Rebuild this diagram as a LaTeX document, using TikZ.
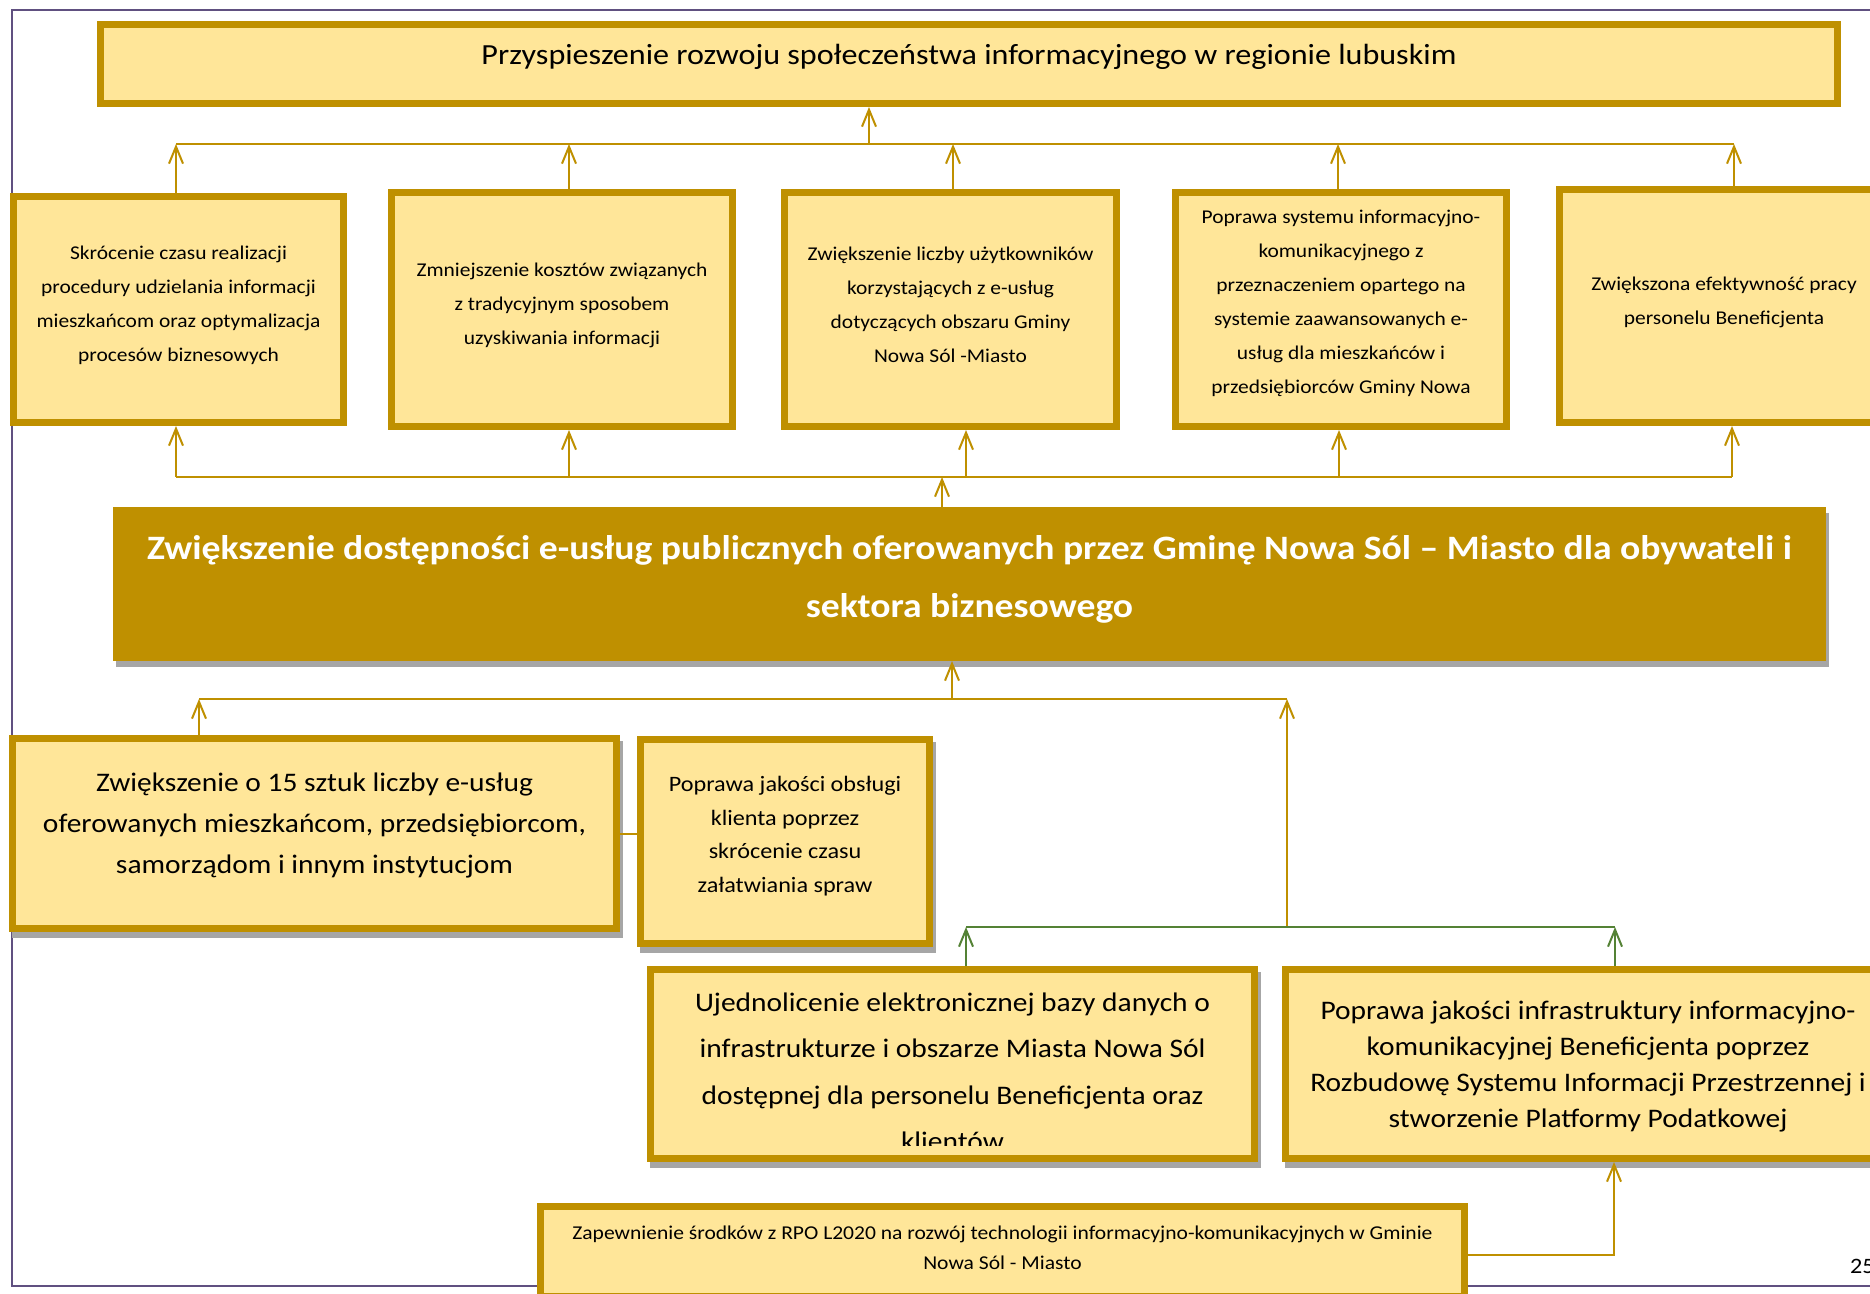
\documentclass[tikz,border=0pt]{standalone}
\usepackage{fontspec}
\setmainfont{Carlito}[FakeStretch=1.1]
\usetikzlibrary{arrows.meta,shadows}

\definecolor{gold}{RGB}{191,144,0}
\definecolor{paleyellow}{RGB}{255,230,153}
\definecolor{leafgreen}{RGB}{84,130,53}
\definecolor{framepurple}{RGB}{96,80,128}
\definecolor{shadowgray}{RGB}{166,166,166}

\begin{document}
\begin{tikzpicture}[x=1pt,y=-1pt,
    box/.style={rectangle,draw=gold,fill=paleyellow,line width=7pt,inner sep=0pt},
    shbox/.style={box,drop shadow={shadow xshift=3pt,shadow yshift=-6pt,opacity=1,fill=shadowgray,draw=shadowgray,line width=7pt}},
    rowbox/.style={box,minimum width=332pt,minimum height=234pt},
    txt/.style={align=center,inner sep=0pt},
    rowtext/.style={txt,font=\fontsize{19.5}{34}\selectfont},
    link/.style={draw=gold,line width=2pt},
    tipend/.style={link,-{Straight Barb[length=17pt,width=14pt]}},
    tipstart/.style={link,{Straight Barb[length=17pt,width=14pt]}-},
    greentip/.style={tipend,draw=leafgreen}]
    \useasboundingbox (0,0) rectangle (1870,1293);
    \fill[white] (0,0) rectangle (1870,1293);
    \draw[framepurple,line width=2pt] (1880,9.5) -- (12,9.5) -- (12,1286) -- (1880,1286);

    % goal at the top
    \node[box,minimum width=1737pt,minimum height=79pt] (goal) at (969,64) {};
    \node[txt,font=\fontsize{29.2}{35}\selectfont] (tgoal) at ([yshift=7pt]goal.center) {Przyspieszenie rozwoju społeczeństwa informacyjnego w regionie lubuskim};

    % row of effects
    \node[rowbox,minimum width=330pt,minimum height=226pt] (r1) at (178.5,309.5) {};
    \node[rowbox,minimum width=341pt] (r2) at (562,309.5) {};
    \node[rowbox] (r3) at (950.5,309.5) {};
    \node[rowbox,minimum width=331pt] (r4) at (1341,309.5) {};
    \node[rowbox,minimum width=329pt,minimum height=233pt] (r5) at (1724,306) {};
    \node[rowtext] (tr1) at ([yshift=4.5pt]r1.center) {Skrócenie czasu realizacji\\procedury udzielania informacji\\mieszkańcom oraz optymalizacja\\procesów biznesowych};
    \node[rowtext] (tr2) at ([yshift=4.5pt]r2.center) {Zmniejszenie kosztów związanych\\z tradycyjnym sposobem\\uzyskiwania informacji};
    \node[rowtext] (tr3) at ([yshift=4.5pt]r3.center) {Zwiększenie liczby użytkowników\\korzystających z e-usług\\dotyczących obszaru Gminy\\Nowa Sól -Miasto};
    \begin{scope}
      \clip ([xshift=7pt,yshift=-7pt]r4.north west) rectangle ([xshift=-7pt,yshift=19pt]r4.south east);
      \node[rowtext] (tr4) at ([yshift=-9.5pt]r4.center) {Poprawa systemu informacyjno-\\komunikacyjnego z\\przeznaczeniem opartego na\\systemie zaawansowanych e-\\usług dla mieszkańców i\\przedsiębiorców Gminy Nowa\\Sól -Miasto};
    \end{scope}
    \node[rowtext] (tr5) at ([yshift=4pt]r5.center) {Zwiększona efektywność pracy\\personelu Beneficjenta};

    % main objective
    \node[shbox,fill=gold,minimum width=1706pt,minimum height=147pt] (main) at (969.5,584) {};
    \node[txt,text=white,font=\bfseries\fontsize{34.2}{58}\selectfont] (tmain) at ([yshift=5pt]main.center) {Zwiększenie dostępności e-usług publicznych oferowanych przez Gminę Nowa Sól – Miasto dla obywateli i\\sektora biznesowego};

    % products and results
    \node[shbox,minimum width=604pt,minimum height=190pt] (lo1) at (314.5,833.5) {};
    \node[txt,font=\fontsize{26.8}{41}\selectfont] (tlo1) at ([yshift=8.5pt]lo1.center) {Zwiększenie o 15 sztuk liczby e-usług\\oferowanych mieszkańcom, przedsiębiorcom,\\samorządom i innym instytucjom};
    \node[shbox,minimum width=289pt,minimum height=204pt] (lo2) at (785,841.5) {};
    \node[txt,font=\fontsize{22}{33.5}\selectfont] (tlo2) at ([yshift=5.5pt]lo2.center) {Poprawa jakości obsługi\\klienta poprzez\\skrócenie czasu\\załatwiania spraw};
    \node[shbox,minimum width=604pt,minimum height=189pt] (lo3) at (952.5,1064) {};
    \begin{scope}
      \clip ([xshift=7pt,yshift=-7pt]lo3.north west) rectangle ([xshift=-7pt,yshift=17pt]lo3.south east);
      \node[txt,font=\fontsize{26.8}{46.5}\selectfont] (tlo3) at ([yshift=-7.75pt]lo3.center) {Ujednolicenie elektronicznej bazy danych o\\infrastrukturze i obszarze Miasta Nowa Sól\\dostępnej dla personelu Beneficjenta oraz\\klientów};
    \end{scope}
    \node[shbox,minimum width=605pt,minimum height=189pt] (lo4) at (1588,1064) {};
    \node[txt,font=\fontsize{26.8}{36}\selectfont] (tlo4) at ([yshift=-2pt]lo4.center) {Poprawa jakości infrastruktury informacyjno-\\komunikacyjnej Beneficjenta poprzez\\Rozbudowę Systemu Informacji Przestrzennej i\\stworzenie Platformy Podatkowej};
    \node[box,minimum width=924pt,minimum height=90pt] (zap) at (1002.5,1251.5) {};
    \node[txt,font=\fontsize{19.6}{30}\selectfont] (tzap) at ([yshift=3.5pt]zap.center) {Zapewnienie środków z RPO L2020 na rozwój technologii informacyjno-komunikacyjnych w Gminie\\Nowa Sól - Miasto};
    \node[txt,font=\fontsize{22}{26}\selectfont,anchor=west] (page) at (1850,1266) {25};

    % connectors: effects -> goal
    \coordinate (ubus) at (0,144);
    \foreach \n/\dx in {r1/-2.5,r2/7,r3/2.5,r4/-3,r5/10}
      \draw[tipend] ([xshift=\dx pt]\n.north) coordinate (u\n) -- (u\n |- ubus);
    \draw[link] (ur1 |- ubus) -- (ur5 |- ubus);
    \draw[tipstart] ([xshift=-100pt]goal.south) coordinate (ug) -- (ug |- ubus);

    % main objective -> effects
    \coordinate (mbus) at (0,477);
    \foreach \n/\dx in {r1/-2.5,r2/7,r3/15.5,r4/-2,r5/8}
      \draw[tipstart] ([xshift=\dx pt]\n.south) coordinate (d\n) -- (d\n |- mbus);
    \draw[link] (dr1 |- mbus) -- (dr5 |- mbus);
    \draw[tipend] ([xshift=-27.5pt]main.north) coordinate (um) -- (um |- mbus);

    % products -> main objective
    \coordinate (lbus) at (0,699);
    \coordinate (gbus) at (1287,927);
    \draw[tipend] ([xshift=-115.5pt]lo1.north) coordinate (ul1) -- (ul1 |- lbus);
    \draw[tipstart] ([xshift=-17.5pt]main.south) coordinate (dm) -- (dm |- lbus);
    \draw[link] (ul1 |- lbus) -- (gbus |- lbus);
    \draw[tipend] (gbus) -- (gbus |- lbus);
    \draw[link] (lo1.east) -- (lo1.east -| lo2.west);
    \draw[greentip] ([xshift=13.5pt]lo3.north) coordinate (ul3) -- (ul3 |- gbus);
    \draw[greentip] ([xshift=27pt]lo4.north) coordinate (ul4) -- (ul4 |- gbus);
    \draw[leafgreen,line width=2pt] (ul3 |- gbus) -- (ul4 |- gbus);
    \draw[tipend] ([yshift=-3.5pt]zap.east) -| ([xshift=26pt]lo4.south);
\end{tikzpicture}
\end{document}
